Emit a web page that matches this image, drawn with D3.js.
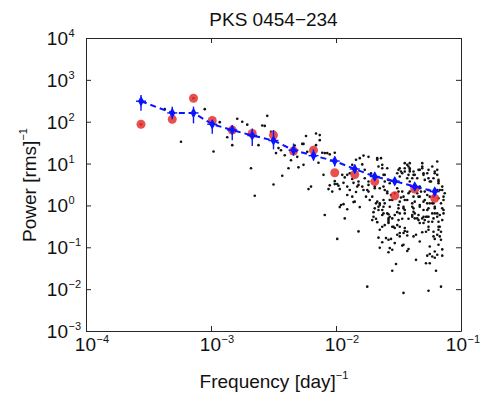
<!DOCTYPE html>
<html>
<head>
<meta charset="utf-8">
<script src="https://cdn.jsdelivr.net/npm/d3@7"></script>
<style>
  body { margin: 0; background: #fff; }
  svg { display: block; }
  text { font-family: "Liberation Sans", Arial, Helvetica, sans-serif; fill: #111; }
</style>
</head>
<body>
<div id="chart"></div>
<script>
// all values in log10 units (frequency in 1/day, power in (rms)^-1)
var binLogF  = [-3.56, -3.31, -3.14, -2.99, -2.83, -2.67, -2.50, -2.34, -2.18, -2.01, -1.85, -1.69, -1.53, -1.37, -1.21];
var binLogP  = [2.49, 2.21, 2.21, 1.94, 1.80, 1.67, 1.55, 1.32, 1.19, 1.06, 0.87, 0.69, 0.58, 0.45, 0.33];
var binErrHi = [2.64, 2.36, 2.36, 2.04, 1.92, 1.84, 1.80, 1.48, 1.34, 1.17, 0.97, 0.78, 0.67, 0.53, 0.42];
var binErrLo = [2.26, 2.06, 1.96, 1.71, 1.56, 1.42, 1.34, 1.19, 1.07, 0.93, 0.77, 0.59, 0.49, 0.36, 0.24];
var simLogP  = [1.94, 2.06, 2.56, 2.03, 1.80, 1.72, 1.68, 1.30, 1.32, 0.78, 0.74, 0.57, 0.23, 0.39, 0.17];

// raw periodogram [log10 f, log10 P]
var periodogram = [
  [-3.56,1.94],[-3.14,2.56],
  [-3.37,2.30],[-3.24,1.52],[-3.05,2.30],[-2.93,1.99],[-2.98,1.29],[-2.87,1.63],[-2.83,1.44],[-2.79,2.07],
  [-2.75,2.00],[-2.71,1.93],[-2.68,0.89],[-2.65,0.23],[-2.55,2.14],[-2.59,1.91],[-2.57,1.90],[-2.62,1.44],
  [-2.50,0.50],[-2.52,1.76],[-2.48,1.25],[-2.46,1.37],[-2.44,1.32],[-2.43,0.71],[-2.41,1.20],[-2.38,0.89],
  [-2.36,1.08],[-2.33,1.43],[-2.31,1.16],[-2.30,0.91],[-2.27,1.47],[-2.26,1.47],[-2.26,0.97],[-2.24,1.66],
  [-2.23,1.28],[-2.22,0.39],[-2.20,0.45],[-2.16,1.72],[-2.13,1.68],[-2.13,1.56],[-2.16,1.44],[-2.14,1.02],
  [-2.11,1.26],[-2.09,1.25],[-2.10,0.73],[-2.09,-0.23],[-2.07,1.25],[-2.05,1.22],[-2.01,1.26],[-2.05,0.48],
  [-2.06,0.39],[-2.03,0.33],[-2.01,0.58],[-2.01,0.51],[-1.99,0.51],[-1.98,0.47],[-1.97,0.39],[-1.97,-0.04],
  [-1.96,0.01],[-1.94,0.03],[-1.93,-0.31],[-1.91,-0.09],[-1.99,-0.80],[-1.95,0.73],[-1.93,0.67],[-1.91,0.73],
  [-1.89,0.77],[-1.94,0.54],[-1.91,0.45],[-1.89,0.37],[-1.87,0.63],[-1.86,0.54],[-1.84,1.09],[-1.83,0.45],
  [-1.86,0.08],[-1.85,0.09],[-1.82,-0.62],[-1.87,0.21],
  [-1.78,1.19],[-1.81,1.13],[-1.79,0.98],[-1.82,0.49],[-1.78,0.37],[-1.76,0.21],[-1.74,0.33],[-1.77,0.65],
  [-1.74,0.57],[-1.67,1.13],[-1.64,1.13],[-1.66,0.93],[-1.72,0.77],[-1.62,0.73],[-1.59,0.89],[-1.61,0.37],
  [-1.59,0.33],[-1.69,0.45],[-1.65,0.41],[-1.68,0.05],[-1.66,-0.03],[-1.65,0.05],[-1.62,-0.03],[-1.69,-0.07],
  [-1.70,-0.16],[-1.63,-0.23],[-1.58,-0.21],[-1.57,-0.03],[-1.55,0.13],[-1.56,0.25],[-1.51,0.41],[-1.50,0.33],
  [-1.47,0.33],[-1.48,0.19],[-1.50,0.01],[-1.51,-0.16],[-1.46,-0.07],[-1.45,-0.19],[-1.48,0.81],[-1.45,0.89],
  [-1.42,0.93],[-1.41,0.81],[-1.43,0.65],[-1.41,0.57],[-1.39,0.65],[-1.38,0.73],[-1.35,0.65],[-1.41,1.01],
  [-1.45,1.01],[-1.33,0.45],[-1.32,0.33],[-1.34,0.21],[-1.37,0.09],[-1.38,-0.07],[-1.33,0.01],[-1.30,-0.11],
  [-1.29,0.13],[-1.27,0.05],[-1.31,0.89],[-1.30,0.77],[-1.29,0.61],[-1.27,0.25],[-1.26,-0.07],[-1.23,-0.19],
  [-1.25,0.57],[-1.22,0.65],[-1.21,0.81],[-1.19,1.05],[-1.19,0.73],[-1.18,0.57],[-1.17,0.37],[-1.18,0.17],
  [-1.16,0.05],[-1.15,-0.07],[-1.14,-0.19],[-1.21,-0.03],[-1.23,0.05],[-1.19,-0.19],[-1.17,-0.23],[-1.26,0.37],
  [-1.28,-0.27],[-1.34,-0.23],[-1.39,-0.23],[-1.53,-0.23],[-1.58,-0.31],[-1.14,0.13],[-1.13,0.29],[-1.15,0.45],
  [-1.71,-0.35],[-1.68,-0.32],[-1.67,-0.40],[-1.65,-0.58],[-1.63,-0.51],[-1.61,-0.47],[-1.58,-0.39],[-1.57,-0.27],
  [-1.55,-0.51],[-1.53,-0.54],[-1.51,-0.47],[-1.49,-0.51],[-1.47,-0.32],[-1.45,-0.54],[-1.42,-0.32],[-1.39,-0.27],
  [-1.37,-0.31],[-1.34,-0.35],[-1.31,-0.31],[-1.30,-0.42],[-1.27,-0.27],[-1.26,-0.39],[-1.22,-0.31],[-1.19,-0.27],
  [-1.18,-0.39],[-1.17,-0.51],[-1.16,-0.63],[-1.18,-0.58],[-1.19,-0.70],[-1.66,-0.77],[-1.63,-0.88],[-1.60,-0.78],
  [-1.58,-0.82],[-1.56,-0.80],[-1.51,-0.70],[-1.49,-0.66],[-1.46,-0.66],[-1.45,-0.61],[-1.43,-0.72],[-1.36,-0.70],
  [-1.31,-0.64],[-1.28,-0.63],[-1.26,-0.58],[-1.22,-0.74],[-1.21,-0.80],[-1.16,-0.82],[-1.65,-1.01],[-1.58,-1.12],
  [-1.55,-1.06],[-1.47,-0.96],[-1.43,-1.09],[-1.42,-1.04],[-1.27,-1.20],[-1.25,-1.16],[-1.23,-1.22],[-1.21,-1.25],
  [-1.19,-1.18],[-1.21,-1.10],[-1.15,-1.20],[-1.15,-1.05],[-1.36,-1.30],[-1.52,-1.40],[-1.28,-1.38],[-1.25,-1.38],
  [-1.55,-1.56],[-1.20,-1.56],[-1.75,-1.94],[-1.46,-2.09],[-1.26,-2.04],[-1.16,-1.94],
  [-1.31,1.01],[-1.41,0.89],[-1.45,0.81],[-1.47,0.77],[-1.50,0.85],[-1.49,0.69],[-1.42,0.73],[-1.38,0.81],
  [-1.34,0.85],[-1.31,0.93],[-1.30,0.73],[-1.27,0.77],[-1.26,0.65],[-1.24,0.57],[-1.19,0.85],[-1.18,0.53],
  [-1.33,0.41],[-1.35,0.29],[-1.38,0.21],[-1.41,0.33],[-1.43,0.13],[-1.46,0.21],[-1.49,0.09],[-1.50,-0.07],
  [-1.45,-0.11],[-1.39,-0.03],[-1.37,-0.19],[-1.33,-0.03],[-1.30,0.09],[-1.25,0.21],[-1.22,0.05],[-1.21,-0.07],
  [-1.15,-0.35],[-1.26,-0.27],[-1.29,-0.35],[-1.23,-0.39],[-1.21,-0.19],[-1.14,-0.11],[-1.15,0.37],[-1.14,0.21],
  [-1.74,1.16],[-1.67,1.09],[-1.63,0.97],[-1.82,0.57],[-1.79,0.45],[-1.75,0.37],[-1.74,0.49],[-1.69,0.41],
  [-1.71,0.21],[-1.67,0.09],[-1.65,0.01],[-1.66,-0.11],[-1.62,0.13],[-1.57,0.53],[-1.61,0.57],[-1.58,-0.35],
  [-1.62,-0.19],[-1.70,-0.27],[-1.53,0.29],
  [-1.63,0.89],[-1.61,0.73],[-1.58,0.61],[-1.62,0.45],[-1.59,0.29],[-1.57,0.13],[-1.61,0.05],[-1.63,-0.11],
  [-1.59,-0.19],[-1.55,-0.31],[-1.58,-0.42],[-1.54,-0.51],[-1.50,-0.35],[-1.49,-0.19],[-1.46,-0.03],[-1.45,0.13],
  [-1.42,0.29],[-1.39,0.05],[-1.38,-0.15],[-1.35,-0.31],[-1.33,-0.42],[-1.30,-0.27],[-1.27,-0.11],[-1.25,0.05],
  [-1.22,0.21],[-1.19,0.37],[-1.18,0.61],[-1.21,0.77],[-1.23,0.93],[-1.26,0.85],[-1.33,0.85],[-1.37,0.73],
  [-1.41,0.85],[-1.43,0.97],[-1.49,0.89],[-1.51,0.77],[-1.33,0.21],[-1.29,0.33],[-1.26,-0.51],[-1.22,-0.63],
  [-1.18,-0.51],[-1.17,-0.74],[-1.38,-0.74],[-1.43,-0.63],[-1.49,-0.74],[-1.53,-0.90],[-1.46,-0.94],[-1.33,-0.86],
  [-1.25,-0.98],[-1.18,-0.94],[-1.57,-1.02],
  [-1.87,0.97],[-1.77,0.85],[-1.73,0.13],[-1.81,-0.04],[-1.91,0.25],[-1.84,0.32]
];

var xTickExp = [-4, -3, -2, -1];
var yTickExp = [-3, -2, -1, 0, 1, 2, 3, 4];

var width = 480, height = 395,
    margin = {top: 38, right: 19, bottom: 64, left: 86};

var pow10 = function(v) { return Math.pow(10, v); };
var expText = function(d) { return d < 0 ? "\u2212" + (-d) : String(d); };

var x = d3.scaleLog()
    .domain([1e-4, 1e-1])
    .range([margin.left, width - margin.right]);

var y = d3.scaleLog()
    .domain([1e-3, 1e4])
    .range([height - margin.bottom, margin.top]);

var svg = d3.select("#chart").append("svg")
    .attr("width", width)
    .attr("height", height);

// axes: box with inward ticks on all four sides
var axisColor = "#262626";
var xt = xTickExp.map(pow10), yt = yTickExp.map(pow10);

var axes = [
  [d3.axisBottom(x).tickValues(xt), "translate(0," + y.range()[0] + ")"],
  [d3.axisTop(x).tickValues(xt), "translate(0," + y.range()[1] + ")"],
  [d3.axisLeft(y).tickValues(yt), "translate(" + x.range()[0] + ",0)"],
  [d3.axisRight(y).tickValues(yt), "translate(" + x.range()[1] + ",0)"]
];
axes.forEach(function(a) {
  svg.append("g")
      .attr("transform", a[1])
      .call(a[0].tickSize(-5).tickSizeOuter(0).tickFormat(""))
      .call(function(g) {
        g.select(".domain").attr("stroke", axisColor);
        g.selectAll(".tick line").attr("stroke", axisColor);
      });
});

// tick labels 10^n (last one kept inside the window)
var xLab = svg.append("g").selectAll("g")
  .data(xTickExp)
  .join("g")
    .attr("transform", function(d) {
      return "translate(" + Math.min(x(pow10(d)), width - 23) + "," + (y.range()[0] + 20) + ")";
    });
xLab.append("text")
    .attr("text-anchor", "end")
    .attr("x", 10)
    .attr("font-size", "19px")
    .text("10");
xLab.append("text")
    .attr("x", 10.5)
    .attr("y", -8)
    .attr("font-size", "11px")
    .text(expText);

var yLab = svg.append("g").selectAll("g")
  .data(yTickExp)
  .join("g")
    .attr("transform", function(d) { return "translate(" + (x.range()[0] - 18) + "," + (y(pow10(d)) + 7) + ")"; });
yLab.append("text")
    .attr("text-anchor", "end")
    .attr("font-size", "19px")
    .text("10");
yLab.append("text")
    .attr("x", 0.5)
    .attr("y", -8)
    .attr("font-size", "11px")
    .text(expText);

// raw periodogram
svg.append("g")
  .selectAll("circle")
  .data(periodogram)
  .join("circle")
    .attr("cx", function(d) { return x(pow10(d[0])); })
    .attr("cy", function(d) { return y(pow10(d[1])); })
    .attr("r", 1.3)
    .attr("fill", "#111");

// simulated mean PSD (red)
svg.append("g")
  .selectAll("circle")
  .data(binLogF)
  .join("circle")
    .attr("cx", function(d) { return x(pow10(d)); })
    .attr("cy", function(d, i) { return y(pow10(simLogP[i])); })
    .attr("r", 4.5)
    .attr("fill", "#e8302e")
    .attr("fill-opacity", 0.85);

// binned PSD: dashed line, error bars, markers
var line = d3.line()
    .x(function(d) { return x(pow10(d)); })
    .y(function(d, i) { return y(pow10(binLogP[i])); });

svg.append("path")
    .datum(binLogF)
    .attr("fill", "none")
    .attr("stroke", "#0a14ff")
    .attr("stroke-width", 2)
    .attr("stroke-dasharray", "6 4")
    .attr("d", line);

var bins = svg.append("g")
  .selectAll("g")
  .data(binLogF)
  .join("g")
    .attr("transform", function(d, i) { return "translate(" + x(pow10(d)) + "," + y(pow10(binLogP[i])) + ")"; });

bins.append("line")
    .attr("stroke", "#0a14ff")
    .attr("stroke-width", 1.4)
    .attr("x1", 0).attr("x2", 0)
    .attr("y1", function(d, i) { return y(pow10(binErrHi[i])) - y(pow10(binLogP[i])); })
    .attr("y2", function(d, i) { return y(pow10(binErrLo[i])) - y(pow10(binLogP[i])); });

bins.append("line")
    .attr("stroke", "#0a14ff")
    .attr("stroke-width", 1.4)
    .attr("x1", -5).attr("x2", 5)
    .attr("y1", 0).attr("y2", 0);

bins.append("path")
    .attr("d", d3.symbol(d3.symbolDiamond, 32))
    .attr("fill", "#0a14ff");

// titles
svg.append("text")
    .attr("x", (x.range()[0] + x.range()[1]) / 2)
    .attr("y", 26)
    .attr("text-anchor", "middle")
    .attr("font-size", "19px")
    .text("PKS 0454\u2212234");

var xTitle = svg.append("text")
    .attr("x", 274)
    .attr("y", 388)
    .attr("text-anchor", "middle")
    .attr("font-size", "19px");
xTitle.append("tspan").text("Frequency [day]");
xTitle.append("tspan").attr("dy", -9).attr("font-size", "11px").text("\u22121");

var yTitle = svg.append("text")
    .attr("transform", "translate(36,185) rotate(-90)")
    .attr("text-anchor", "middle")
    .attr("font-size", "19px");
yTitle.append("tspan").text("Power [rms]");
yTitle.append("tspan").attr("dy", -9).attr("font-size", "11px").text("\u22121");
</script>
</body>
</html>
